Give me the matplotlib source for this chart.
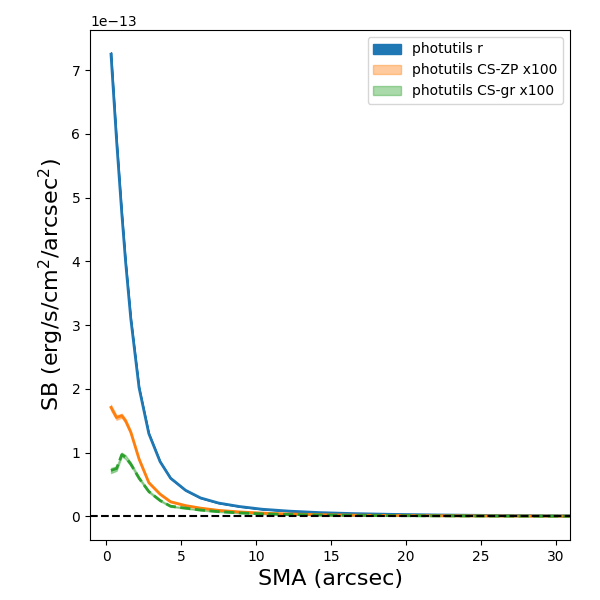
import numpy as np
import matplotlib
matplotlib.use("Agg")
import matplotlib.pyplot as plt

sma = [0.33, 0.7, 1.05, 1.3, 1.65, 2.2, 2.85, 3.6, 4.3, 5.3, 6.3, 7.5, 8.9,
       10.4, 12.2, 14.2, 16.5, 19.1, 22.0, 25.3, 29.0, 33.0]
sb_r = [7.25, 5.9, 4.75, 4.0, 3.1, 2.02, 1.30, 0.86, 0.60, 0.41, 0.29, 0.21, 0.155,
        0.113, 0.083, 0.06, 0.044, 0.032, 0.023, 0.016, 0.011, 0.008]
sb_zp = [1.71, 1.55, 1.58, 1.50, 1.32, 0.90, 0.53, 0.35, 0.23, 0.17, 0.13, 0.095, 0.07,
         0.052, 0.038, 0.028, 0.02, 0.015, 0.011, 0.008, 0.006, 0.004]
sb_gr = [0.72, 0.75, 0.97, 0.93, 0.82, 0.60, 0.39, 0.25, 0.16, 0.13, 0.10, 0.075, 0.055,
         0.04, 0.03, 0.022, 0.016, 0.012, 0.009, 0.006, 0.004, 0.003]
err_r = [0.03, 0.03, 0.025, 0.02, 0.02, 0.015, 0.01, 0.008, 0.006, 0.005, 0.004, 0.003, 0.003,
         0.002, 0.002, 0.002, 0.002, 0.002, 0.002, 0.002, 0.002, 0.002]
err_c = [0.04, 0.035, 0.03, 0.03, 0.025, 0.02, 0.015, 0.012, 0.01, 0.008, 0.006, 0.005, 0.004,
         0.004, 0.003, 0.003, 0.003, 0.003, 0.003, 0.003, 0.003, 0.003]

scale = 1e-13
x = np.array(sma)
r = np.array(sb_r) * scale
zp = np.array(sb_zp) * scale
gr = np.array(sb_gr) * scale
er = np.array(err_r) * scale
ec = np.array(err_c) * scale

fig = plt.figure(figsize=(6, 6), dpi=100)
ax = fig.add_axes([0.15, 0.1, 0.8, 0.85])

ax.fill_between(x, r - er, r + er, color='#1f77b4', alpha=1.0, label='photutils r')
ax.fill_between(x, zp - ec, zp + ec, color='#ff7f0e', alpha=0.4, label='photutils CS-ZP x100')
ax.fill_between(x, gr - ec, gr + ec, color='#2ca02c', alpha=0.4, label='photutils CS-gr x100')
ax.plot(x, r, color='#1f77b4', lw=2)
ax.plot(x, zp, color='#ff7f0e', lw=2)
ax.plot(x, gr, color='#2ca02c', lw=2, ls='--')
ax.axhline(0, color='k', ls='--', lw=1.5)

ax.set_xlim(-1.07, 30.93)
ax.set_ylim(-0.37e-13, 7.63e-13)
ax.set_xlabel('SMA (arcsec)', fontsize=16)
ax.set_ylabel('SB (erg/s/cm$^2$/arcsec$^2$)', fontsize=16)
ax.legend(loc='upper right')

fig.savefig('out.png', dpi=100)
